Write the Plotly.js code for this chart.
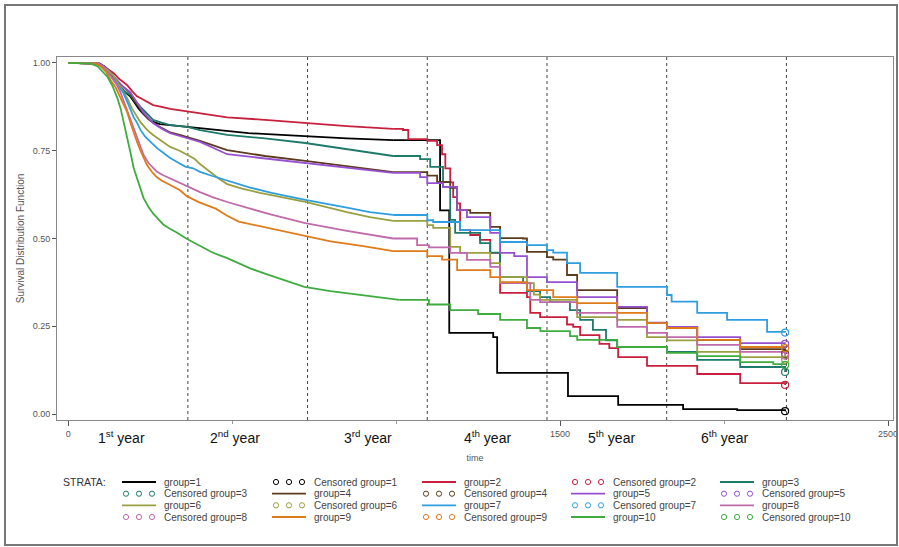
<!DOCTYPE html>
<html>
<head>
<meta charset="utf-8">
<script src="https://cdn.plot.ly/plotly-3.0.1.min.js"></script>
<style>html,body{margin:0;padding:0;background:#fff;}#chart{width:899px;height:547px;}</style>
</head>
<body>
<div id="chart"></div>
<script>
// ---- Data ----
var groupNames = ["group=1","group=2","group=3","group=4","group=5","group=6","group=7","group=8","group=9","group=10"];
var censorNames = ["Censored group=1","Censored group=2","Censored group=3","Censored group=4","Censored group=5","Censored group=6","Censored group=7","Censored group=8","Censored group=9","Censored group=10"];
var groupColors = ["#000000","#c8203c","#1e7a6a","#5c3c1c","#9650d0","#9aa040","#2e9ee0","#c06aaa","#e07b1a","#3fac3f"];

var time1 = [0,95,110,125,140,155,170,189,200,215,229,245,259,280,311,363,450,550,650,723,850,991,1134,1162,1296,1308,1524,1677,1875,2040,2186];
var surv1 = [1,0.998,0.99,0.975,0.955,0.935,0.92,0.905,0.89,0.87,0.855,0.84,0.832,0.826,0.823,0.818,0.81,0.8,0.795,0.791,0.785,0.78,0.58,0.231,0.219,0.117,0.051,0.026,0.014,0.011,0.008];

var time2 = [0,95,110,125,140,155,170,180,195,210,220,240,259,285,311,363,485,600,723,850,991,1021,1037,1095,1125,1140,1150,1165,1174,1186,1195,1226,1256,1287,1317,1399,1409,1439,1521,1540,1561,1620,1650,1677,1765,1918,2049,2186];
var surv2 = [1,0.998,0.99,0.98,0.97,0.955,0.945,0.937,0.92,0.905,0.9,0.89,0.88,0.875,0.869,0.862,0.845,0.838,0.829,0.82,0.812,0.809,0.783,0.778,0.766,0.74,0.7,0.66,0.618,0.6,0.524,0.51,0.496,0.459,0.345,0.333,0.288,0.276,0.255,0.248,0.225,0.2,0.188,0.162,0.137,0.114,0.088,0.083];

var time3 = [0,95,110,125,140,155,170,189,200,215,229,245,259,285,311,363,402,485,600,723,850,991,1073,1104,1143,1165,1180,1256,1287,1317,1387,1399,1439,1470,1530,1561,1600,1640,1674,1826,1918,2049,2186];
var surv3 = [1,0.998,0.99,0.975,0.955,0.935,0.92,0.909,0.895,0.88,0.866,0.85,0.838,0.83,0.823,0.818,0.809,0.795,0.785,0.772,0.755,0.735,0.726,0.704,0.647,0.553,0.516,0.487,0.46,0.39,0.373,0.35,0.333,0.319,0.296,0.268,0.24,0.21,0.191,0.177,0.154,0.134,0.12];

var time4 = [0,95,110,125,140,155,170,189,200,215,229,245,259,285,311,340,363,402,485,600,723,850,991,1095,1125,1165,1186,1226,1287,1317,1387,1399,1460,1479,1521,1552,1674,1765,1826,1918,2049,2186];
var surv4 = [1,0.998,0.99,0.978,0.96,0.943,0.93,0.915,0.895,0.875,0.857,0.84,0.83,0.815,0.802,0.795,0.789,0.778,0.752,0.735,0.721,0.705,0.689,0.679,0.661,0.644,0.581,0.573,0.533,0.501,0.5,0.462,0.447,0.44,0.396,0.353,0.302,0.259,0.248,0.211,0.185,0.172];

var time5 = [0,95,110,125,140,155,170,189,200,215,229,245,259,285,311,340,363,402,485,600,723,850,991,1073,1095,1143,1186,1216,1287,1317,1360,1399,1460,1552,1674,1765,1826,1918,2049,2186];
var surv5 = [1,0.998,0.99,0.978,0.96,0.945,0.93,0.917,0.9,0.88,0.86,0.842,0.829,0.813,0.8,0.792,0.786,0.775,0.74,0.728,0.715,0.7,0.687,0.675,0.658,0.647,0.581,0.561,0.516,0.459,0.45,0.39,0.376,0.333,0.305,0.26,0.248,0.219,0.202,0.2];

var time6 = [0,90,105,120,137,150,165,180,195,210,220,240,259,285,311,340,363,385,402,433,460,485,530,585,650,723,850,920,991,1095,1113,1165,1195,1287,1317,1399,1420,1439,1552,1674,1765,1826,1918,2049,2186];
var surv6 = [1,0.998,0.99,0.98,0.965,0.945,0.92,0.9,0.87,0.845,0.832,0.81,0.795,0.778,0.761,0.75,0.738,0.727,0.712,0.689,0.67,0.655,0.642,0.63,0.617,0.604,0.575,0.561,0.55,0.538,0.53,0.476,0.459,0.43,0.39,0.373,0.34,0.325,0.276,0.268,0.219,0.21,0.177,0.162,0.155];

var time7 = [0,88,100,115,128,140,155,168,180,190,200,210,220,235,250,270,290,310,332,357,381,402,440,485,555,620,723,850,920,991,1095,1113,1195,1317,1399,1460,1479,1521,1561,1674,1826,1840,1918,2009,2131,2186];
var surv7 = [1,0.998,0.99,0.978,0.965,0.95,0.93,0.915,0.89,0.865,0.845,0.83,0.81,0.79,0.775,0.758,0.744,0.73,0.718,0.705,0.7,0.69,0.678,0.665,0.645,0.63,0.61,0.588,0.575,0.567,0.552,0.547,0.524,0.49,0.481,0.467,0.46,0.43,0.402,0.362,0.339,0.32,0.288,0.268,0.234,0.232];

var time8 = [0,90,105,120,135,150,160,170,180,190,200,210,220,230,245,260,271,290,320,363,402,440,485,555,620,723,850,991,1064,1100,1165,1216,1287,1317,1409,1439,1552,1674,1765,1826,1918,2049,2186];
var surv8 = [1,0.998,0.99,0.975,0.955,0.935,0.915,0.89,0.865,0.84,0.81,0.785,0.76,0.738,0.715,0.7,0.69,0.68,0.667,0.65,0.632,0.618,0.604,0.585,0.568,0.544,0.522,0.5,0.481,0.475,0.459,0.439,0.419,0.373,0.325,0.319,0.288,0.248,0.231,0.219,0.197,0.177,0.166];

var time9 = [0,85,100,115,130,145,160,170,180,190,200,210,220,230,240,255,270,285,300,320,340,363,400,450,485,520,560,620,723,800,900,991,1095,1140,1186,1287,1317,1399,1479,1552,1674,1765,1826,1918,2049,2186];
var surv9 = [1,0.998,0.99,0.975,0.95,0.93,0.9,0.88,0.86,0.83,0.8,0.775,0.752,0.73,0.71,0.69,0.675,0.665,0.658,0.647,0.638,0.62,0.603,0.585,0.565,0.548,0.54,0.528,0.506,0.492,0.478,0.464,0.45,0.44,0.41,0.39,0.376,0.353,0.333,0.316,0.288,0.259,0.245,0.211,0.191,0.188];

var time10 = [0,70,90,105,120,135,150,160,170,180,190,200,210,220,230,245,260,275,290,310,330,360,400,440,485,520,555,600,650,720,800,900,1010,1100,1165,1250,1317,1399,1440,1530,1552,1674,1826,1918,2049,2150,2186];
var surv10 = [1,0.998,0.99,0.975,0.96,0.935,0.9,0.87,0.83,0.79,0.745,0.7,0.67,0.64,0.615,0.59,0.57,0.555,0.54,0.528,0.518,0.5,0.48,0.46,0.444,0.43,0.415,0.4,0.385,0.362,0.35,0.338,0.325,0.312,0.296,0.285,0.268,0.245,0.236,0.222,0.211,0.191,0.174,0.165,0.148,0.142,0.14];

var censorTime = [2186,2186,2186,2186,2186,2186,2186,2186,2186,2186];
var censorSurv = [0.008,0.083,0.12,0.172,0.2,0.155,0.232,0.166,0.188,0.14];

var yearEnds = [365,730,1095,1460,1825,2190];
var yearLabelPos = [162,509,915,1278,1656,2000];
var yearLabels = ["1<sup>st</sup> year","2<sup>nd</sup> year","3<sup>rd</sup> year","4<sup>th</sup> year","5<sup>th</sup> year","6<sup>th</sup> year"];
var xTickVals = [0,1500,2500];
var xMinorTickVals = [500,1000,2000];
var yTickVals = [0,0.25,0.5,0.75,1];

// ---- Build traces ----
// Early part (dense events) drawn as a smooth line, later part as KM steps.
var SPLIT = 1010;
var times = [time1,time2,time3,time4,time5,time6,time7,time8,time9,time10];
var survs = [surv1,surv2,surv3,surv4,surv5,surv6,surv7,surv8,surv9,surv10];
var traces = [];
for (var i = 0; i < 10; i++) {
  var t = times[i], s = survs[i], cut = 0;
  for (var k = 0; k < t.length; k++) { if (t[k] <= SPLIT) cut = k; }
  traces.push({type: "scatter", mode: "lines", name: groupNames[i], showlegend: false,
    x: t.slice(0, cut + 1), y: s.slice(0, cut + 1),
    line: {color: groupColors[i], width: 1.8, shape: "linear"}, hoverinfo: "skip"});
  traces.push({type: "scatter", mode: "lines", name: groupNames[i], showlegend: false,
    x: t.slice(cut), y: s.slice(cut),
    line: {color: groupColors[i], width: 1.8, shape: "hv"}, hoverinfo: "skip"});
}
for (var j = 0; j < 10; j++) {
  traces.push({type: "scatter", mode: "markers", name: censorNames[j], showlegend: false,
    x: [censorTime[j]], y: [censorSurv[j]],
    marker: {symbol: "circle-open", size: 7, color: groupColors[j], line: {width: 1.2}},
    hoverinfo: "skip"});
}

var FONT = "Liberation Sans, Arial, sans-serif";
var PL = 57, PR = 893, PT = 57, PB = 420;           // plot area in pixels
function px2x(p) { return (p - PL) / (PR - PL); }
function py2y(p) { return (PB - p) / (PB - PT); }

var shapes = yearEnds.map(function (d) {
  return {type: "line", xref: "x", yref: "paper", x0: d, x1: d, y0: 0, y1: 1,
          line: {color: "#444", width: 1, dash: "dot"}, layer: "below"};
});
// outer frame of the figure
shapes.push({type: "rect", xref: "paper", yref: "paper", x0: px2x(5), x1: px2x(897), y0: py2y(545), y1: py2y(5),
             line: {color: "#777", width: 2}, fillcolor: "rgba(0,0,0,0)"});

var annotations = yearLabels.map(function (txt, k) {
  return {text: txt, xref: "x", yref: "paper", x: yearLabelPos[k], y: py2y(437), showarrow: false,
          xanchor: "center", yanchor: "middle", font: {family: FONT, size: 14, color: "#111"}};
});

// ---- Legend (STRATA), laid out as in the reference: 5 columns x 4 rows ----
var legCols = [122, 272, 422, 571, 720];
var legRows = [482, 493.7, 505.3, 517];
annotations.push({text: "STRATA:", xref: "paper", yref: "paper", x: px2x(61), y: py2y(legRows[0]), showarrow: false,
                  xanchor: "left", yanchor: "middle", font: {family: FONT, size: 10.5, color: "#333"}});
var entries = [];
for (var g = 0; g < 10; g++) {
  entries.push({name: groupNames[g], color: groupColors[g], censored: false});
  entries.push({name: censorNames[g], color: groupColors[g], censored: true});
}
entries.forEach(function (e, k) {
  var cx = legCols[k % 5], cy = legRows[Math.floor(k / 5)];
  if (e.censored) {
    [4, 17, 30].forEach(function (off) {
      shapes.push({type: "circle", xref: "paper", yref: "paper", xsizemode: "pixel", ysizemode: "pixel",
                   xanchor: px2x(cx + off), yanchor: py2y(cy), x0: -2.6, x1: 2.6, y0: -2.6, y1: 2.6,
                   line: {color: e.color, width: 1}, fillcolor: "rgba(0,0,0,0)"});
    });
  } else {
    shapes.push({type: "line", xref: "paper", yref: "paper", x0: px2x(cx), x1: px2x(cx + 34),
                 y0: py2y(cy), y1: py2y(cy), line: {color: e.color, width: 1.8}});
  }
  annotations.push({text: e.name, xref: "paper", yref: "paper", x: px2x(cx + 40), y: py2y(cy), showarrow: false,
                    xanchor: "left", yanchor: "middle", font: {family: FONT, size: 10, color: "#444"}});
});

var layout = {
  width: 899, height: 547,
  margin: {l: PL, r: 899 - PR, t: PT, b: 547 - PB},
  paper_bgcolor: "#fff", plot_bgcolor: "#fff",
  font: {family: FONT, color: "#444"},
  showlegend: false,
  xaxis: {range: [-34, 2515], tickvals: xTickVals, ticks: "outside", ticklen: 5,
          tickcolor: "#555", showgrid: false, zeroline: false, showline: true, linecolor: "#888",
          linewidth: 1, mirror: true, tickfont: {family: FONT, size: 9, color: "#555"},
          minor: {tickvals: xMinorTickVals, ticks: "outside", ticklen: 3, tickcolor: "#999"},
          title: {text: "time", font: {family: FONT, size: 9, color: "#555"}, standoff: 16}},
  yaxis: {range: [-0.017, 1.017], tickvals: yTickVals, tickformat: ".2f", ticks: "outside", ticklen: 4,
          tickcolor: "#555", showgrid: false, zeroline: false, showline: true, linecolor: "#888",
          linewidth: 1, mirror: true, tickfont: {family: FONT, size: 9, color: "#555"},
          title: {text: "Survival Distribution Function", font: {family: FONT, size: 10, color: "#555"}, standoff: 6}},
  shapes: shapes,
  annotations: annotations
};

Plotly.newPlot("chart", traces, layout, {displayModeBar: false, staticPlot: true});
</script>
</body>
</html>
